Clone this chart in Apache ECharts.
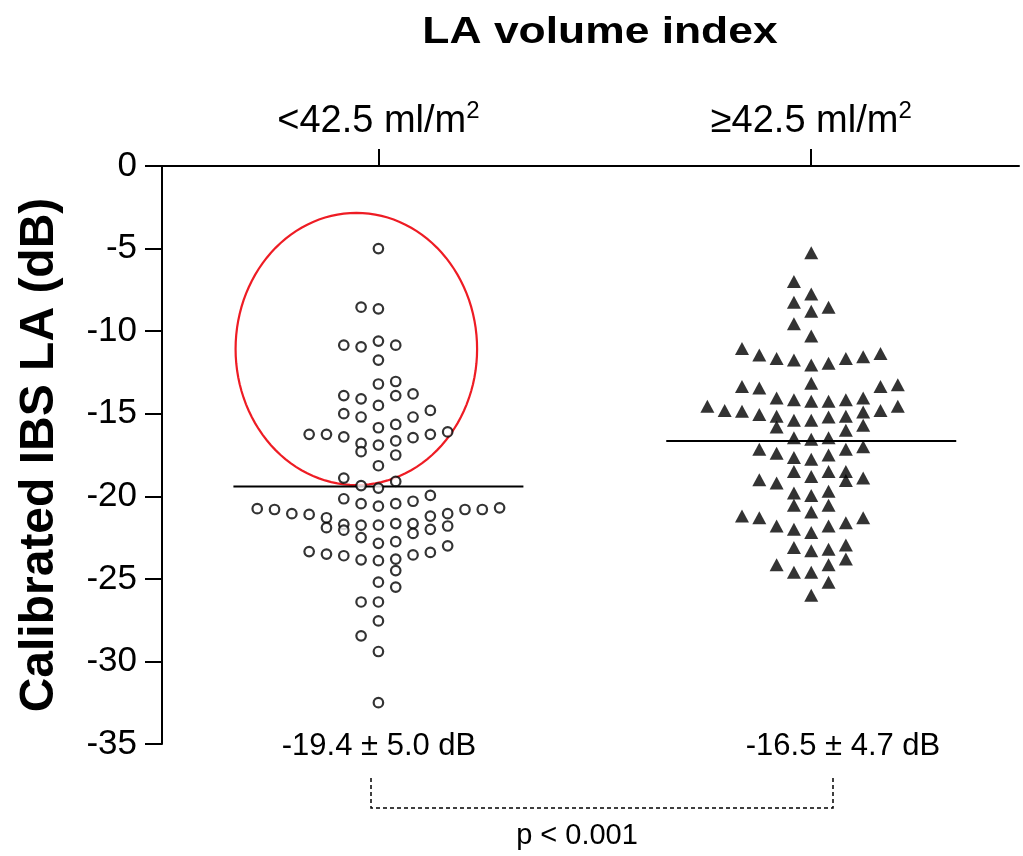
<!DOCTYPE html>
<html><head><meta charset="utf-8">
<script src="https://cdn.jsdelivr.net/npm/echarts@6/dist/echarts.min.js"></script>
<style>html,body{margin:0;padding:0;background:#fff}#c{width:1023px;height:856px}</style>
</head><body><div id="c"></div>
<script>
// ---------------- data ----------------
const chartTitle = 'LA volume index';
const yAxisTitle = 'Calibrated IBS LA (dB)';
const groupLabels = ['<42.5 ml/m', '\u226542.5 ml/m'];
const groupSup = '2';
const summaryLabels = ['-19.4 \u00b1 5.0 dB', '-16.5 \u00b1 4.7 dB'];
const pLabel = 'p < 0.001';
const yTicks = [0, -5, -10, -15, -20, -25, -30, -35];
const groupMeans = [-19.4, -16.65];

// group 1 (<42.5): beeswarm column index and value (dB)
const g1Cols = [0, -1, 0, -2, -1, 0, 1, 0, 0, 1, -2, -1, 1, 2, 0, 3, -2, -1, 2, 0, 1,
  -4, -3, -2, -1, 0, 1, 2, 3, 4, -1, 1, 0, -2, 1, -1, 0,
  -2, -1, 0, 1, 2, 3,
  -7, -6, -5, -4, -3, 3, 4, 5, 6, 7,
  -3, -2, -2, -1, 0, 1, 2, 2, 3, 4,
  -1, 0, 1, 4,
  -4, -3, -2, -1, 0, 1, 2, 3,
  1, 0, 1, -1, 0, 0, -1, 0, 0];
const g1Vals = [-5.0, -8.55, -8.65, -10.85, -10.95, -10.6, -10.85, -11.75, -13.2, -13.05,
  -13.9, -14.1, -13.9, -13.8, -14.5, -14.8, -15.0, -15.2, -15.2, -15.85, -15.65,
  -16.25, -16.25, -16.4, -16.8, -16.9, -16.65, -16.45, -16.25, -16.1, -17.3, -17.5, -18.15, -18.9, -19.1, -19.35, -19.5,
  -20.15, -20.45, -20.6, -20.45, -20.3, -19.95,
  -20.75, -20.8, -21.05, -21.1, -21.3, -21.2, -21.05, -20.8, -20.8, -20.7,
  -21.9, -21.7, -22.05, -21.75, -21.75, -21.65, -21.65, -22.25, -22.0, -21.8,
  -22.5, -22.85, -22.75, -23.0,
  -23.35, -23.5, -23.6, -23.85, -23.9, -23.8, -23.55, -23.4,
  -24.5, -25.2, -25.5, -26.4, -26.4, -27.55, -28.45, -29.4, -32.5];

// group 2 (>=42.5)
const g2Cols = [0, -1, 0, -1, 1, 0, -1, 0,
  -4, -3, -2, -1, 0, 1, 2, 3, 4,
  0, -4, -3, 4, 5,
  -2, -1, 0, 1, 2, 3,
  -6, -5, -4, -3, -2, -1, 0, 1, 2, 3, 4, 5,
  -2, 2, 3, -1, 0, 1,
  -3, -2, -1, 0, 1, 2, 3,
  -1, 0, 1, 2, 2, 3, -3, -2,
  -1, 0, 1, -1, 1, 0,
  -4, -3, 3, 2, 1, -2, -1, 0,
  -1, 0, 1, 2, 2,
  -2, -1, 0, 1, 1, 0];
const g2Vals = [-5.25, -7.0, -7.75, -8.25, -8.55, -8.8, -9.55, -10.3,
  -11.05, -11.45, -11.65, -11.75, -12.05, -11.95, -11.65, -11.55, -11.35,
  -13.15, -13.35, -13.45, -13.35, -13.25,
  -14.05, -14.15, -14.25, -14.25, -14.15, -14.05,
  -14.55, -14.8, -14.85, -15.05, -15.15, -15.4, -15.4, -15.2, -15.15, -14.9, -14.8, -14.55,
  -15.8, -16.0, -15.7, -16.45, -16.55, -16.45,
  -17.15, -17.4, -17.65, -17.75, -17.5, -17.15, -17.0,
  -18.5, -18.8, -18.5, -18.5, -19.05, -18.9, -19.0, -19.2,
  -19.8, -19.95, -19.7, -20.55, -20.55, -20.95,
  -21.2, -21.3, -21.3, -21.6, -21.8, -21.8, -22.0, -22.2,
  -23.1, -23.3, -23.2, -22.95, -23.8,
  -24.15, -24.6, -24.6, -24.15, -25.2, -26.0];

// highlighted region (red ellipse) in data units: center group offset, center dB, radii
const ellipseSpec = {cx: -0.051, cy: -11.08, rx: 0.279, ry: 8.24};

// ---------------- layout constants ----------------
const COL_STEP = 0.04;      // horizontal spacing of swarm columns (axis units)
const MEAN_HALF = 0.335;    // half width of mean line (axis units)
const FONT = 'Liberation Sans, Arial, Helvetica, sans-serif';

const g1Data = g1Cols.map((c, i) => [0 + c * COL_STEP, g1Vals[i]]);
const g2Data = g2Cols.map((c, i) => [1 + c * COL_STEP, g2Vals[i]]);
const meanData = groupMeans.map((m, i) => [i, m]);

const chart = echarts.init(document.getElementById('c'), null, {renderer: 'canvas'});
const option = {
  backgroundColor: '#fff',
  animation: false,
  grid: {left: 162, right: 4, top: 166, bottom: 112, containLabel: false},
  xAxis: {
    type: 'value', position: 'top', min: -0.5, max: 1.48,
    axisLine: {show: true, onZero: false, lineStyle: {color: '#000', width: 2}},
    axisTick: {show: true, inside: false, length: 17, lineStyle: {color: '#000', width: 2}, customValues: [0, 1]},
    axisLabel: {
      show: true, margin: 25, customValues: [0, 1],
      formatter: v => '{b|' + groupLabels[Math.round(v)] + '}{s|' + groupSup + '}',
      rich: {
        b: {fontSize: 38, fontFamily: FONT, color: '#000', lineHeight: 42, verticalAlign: 'bottom', padding: [12, 0, 0, 0]},
        s: {fontSize: 24, fontFamily: FONT, color: '#000', lineHeight: 26, verticalAlign: 'top'}
      }
    },
    splitLine: {show: false}
  },
  yAxis: {
    type: 'value', min: -35, max: 0, interval: 5,
    name: yAxisTitle, nameLocation: 'middle', nameRotate: 90, nameGap: 98,
    nameTextStyle: {fontSize: 48, fontWeight: 'bold', fontFamily: FONT, color: '#000'},
    axisLine: {show: true, onZero: false, lineStyle: {color: '#000', width: 2}},
    axisTick: {show: true, length: 17, lineStyle: {color: '#000', width: 2}},
    axisLabel: {fontSize: 35, fontFamily: FONT, color: '#000', margin: 25, formatter: v => String(v)},
    splitLine: {show: false}
  },
  graphic: [
    {type: 'text', x: 600, y: 33, scaleX: 1.2, style: {text: chartTitle, font: 'bold 37px ' + FONT, fill: '#000', align: 'center', verticalAlign: 'middle'}},
    {type: 'text', x: 379, y: 746, style: {text: summaryLabels[0], font: '31px ' + FONT, fill: '#000', align: 'center', verticalAlign: 'middle'}},
    {type: 'text', x: 843, y: 746, style: {text: summaryLabels[1], font: '31px ' + FONT, fill: '#000', align: 'center', verticalAlign: 'middle'}},
    {type: 'polyline', shape: {points: [[371, 778], [371, 808], [833, 808], [833, 778]]}, style: {stroke: '#000', lineWidth: 1.5, lineDash: [4, 3], fill: null}},
    {type: 'text', x: 577, y: 836, style: {text: pLabel, font: '29px ' + FONT, fill: '#000', align: 'center', verticalAlign: 'middle'}}
  ],
  series: [
    {
      type: 'custom', name: 'ellipse', silent: true, clip: false, z: 1,
      data: [[ellipseSpec.cx, ellipseSpec.cy]],
      renderItem: (params, api) => {
        const pts = [];
        for (let k = 0; k < 120; k++) {
          const t = k / 120 * Math.PI * 2;
          pts.push(api.coord([ellipseSpec.cx + ellipseSpec.rx * Math.cos(t), ellipseSpec.cy + ellipseSpec.ry * Math.sin(t)]));
        }
        return {type: 'polygon', shape: {points: pts}, style: {fill: 'none', stroke: '#ee1c24', lineWidth: 2.2}};
      }
    },
    {
      type: 'custom', name: 'mean', silent: true, clip: false, z: 2,
      data: meanData,
      renderItem: (params, api) => {
        const g = api.value(0), m = api.value(1);
        const p1 = api.coord([g - MEAN_HALF, m]);
        const p2 = api.coord([g + MEAN_HALF, m]);
        return {type: 'line', shape: {x1: p1[0], y1: p1[1], x2: p2[0], y2: p2[1]}, style: {stroke: '#000', lineWidth: 2}};
      }
    },
    {
      type: 'scatter', name: '<42.5', data: g1Data, symbol: 'circle', symbolSize: 9.5, z: 3,
      itemStyle: {color: '#fff', borderColor: '#000', borderWidth: 2.2}
    },
    {
      type: 'scatter', name: '>=42.5', data: g2Data, symbol: 'triangle', symbolSize: [14, 13], z: 3,
      itemStyle: {color: '#000'}
    }
  ]
};
chart.setOption(option);
</script>
</body></html>
